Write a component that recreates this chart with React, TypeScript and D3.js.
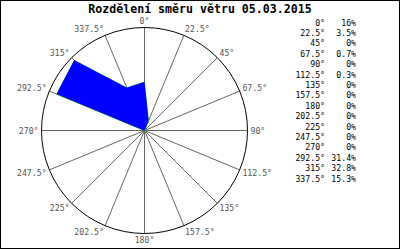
import React from "react";
import * as d3 from "d3";

const title = "Rozdělení směru větru 05.03.2015";
const directions = [0, 22.5, 45, 67.5, 90, 112.5, 135, 157.5, 180, 202.5, 225, 247.5, 270, 292.5, 315, 337.5];
const dirLabels = ["0°", "22.5°", "45°", "67.5°", "90°", "112.5°", "135°", "157.5°", "180°", "202.5°", "225°", "247.5°", "270°", "292.5°", "315°", "337.5°"];
const values = [16, 3.5, 0, 0.7, 0, 0.3, 0, 0, 0, 0, 0, 0, 0, 31.4, 32.8, 15.3];
const valueLabels = ["16%", "3.5%", "0%", "0.7%", "0%", "0.3%", "0%", "0%", "0%", "0%", "0%", "0%", "0%", "31.4%", "32.8%", "15.3%"];

const W = 400;
const H = 250;
const cx = 144.5;
const cy = 130.5;
const R = 103;
const mono = "'DejaVu Sans Mono', 'Liberation Mono', monospace";

export default function App() {
  const rScale = d3.scaleLinear().domain([0, 34]).range([0, R]);
  const rad = (deg: number) => (deg * Math.PI) / 180;
  const line = d3
    .lineRadial<number>()
    .angle((_, i) => rad(directions[i]))
    .radius((v) => rScale(v))
    .curve(d3.curveLinearClosed);
  const pathD = line(values) || "";
  const rowY = d3.scaleLinear().domain([0, 15]).range([22.5, 178.5]);

  return (
    <svg width={W} height={H} style={{ position: "absolute", left: 0, top: 0, background: "#fff" }}>
      <rect x={0.5} y={0.5} width={W - 1} height={H - 2} fill="#fff" stroke="#000" />
      <text x={200} y={13} textAnchor="middle" fontFamily={mono} fontWeight="bold" fontSize={11.6} fill="#000">
        {title}
      </text>
      <g>
        {directions.map((d) => {
          const a = rad(d);
          return (
            <line
              key={"s" + d}
              x1={cx}
              y1={cy}
              x2={cx + R * Math.sin(a)}
              y2={cy - R * Math.cos(a)}
              stroke="#666"
              strokeWidth={1}
            />
          );
        })}
        <circle cx={cx} cy={cy} r={R} fill="none" stroke="#000" strokeWidth={1} />
        <g transform={`translate(${cx},${cy})`}>
          <path d={pathD} fill="#0000ff" stroke="#00dd00" strokeWidth={0.6} />
          <path d={pathD} fill="#0000ff" stroke="none" />
        </g>
        {directions.map((d, i) => {
          const a = rad(d);
          const s = Math.sin(a);
          const c = Math.cos(a);
          const px = cx + R * s;
          const py = cy - R * c;
          const anchor = s > 0.01 ? "start" : s < -0.01 ? "end" : "middle";
          const x = px + 3 * s;
          const y = py - 6.8 * c + 3;
          return (
            <text key={"l" + d} x={x} y={y} textAnchor={anchor} fontFamily={mono} fontSize={8.2} fill="#555">
              {dirLabels[i]}
            </text>
          );
        })}
      </g>
      <g fontFamily={mono} fontSize={8.2} fill="#000">
        {directions.map((d, i) => (
          <g key={"r" + d}>
            <text x={325} y={rowY(i) + 3} textAnchor="end">
              {dirLabels[i]}
            </text>
            <text x={356} y={rowY(i) + 3} textAnchor="end">
              {valueLabels[i]}
            </text>
          </g>
        ))}
      </g>
    </svg>
  );
}
